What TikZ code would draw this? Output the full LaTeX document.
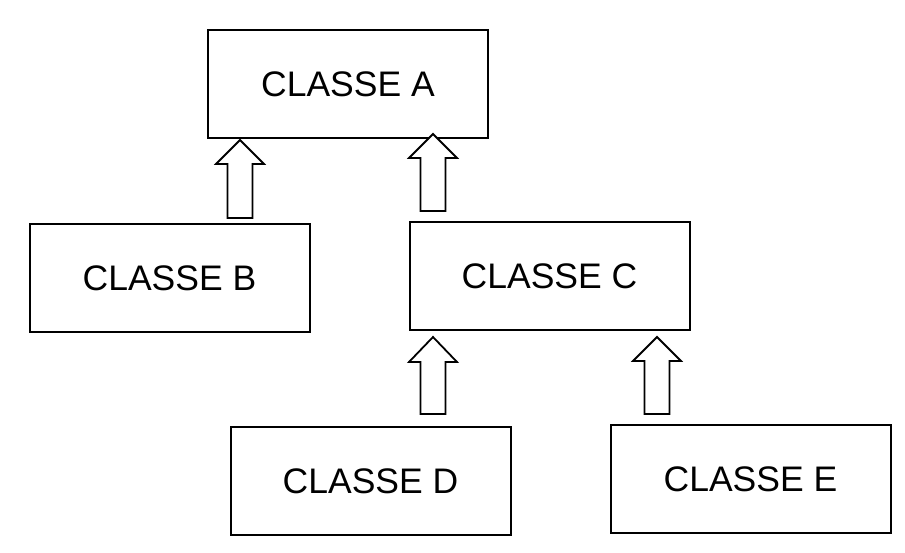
\documentclass[tikz,border=0pt]{standalone}
\usepackage{fontspec}
\setmainfont{Liberation Sans}
\begin{document}
\begin{tikzpicture}[x=1pt,y=-1pt,
  classbox/.style={draw=black,line width=2pt,minimum width=280pt,minimum height=108pt,inner sep=0pt,
    font=\fontsize{35.5}{42}\selectfont,text=black},
  blk/.style={draw=black,line width=1.8pt,fill=white,line join=miter}]
\useasboundingbox (0,0) rectangle (905,552);
\fill[white] (0,0) rectangle (905,552);
\node[classbox] (A) at (348,84) {CLASSE A};
\node[classbox] (B) at (169.5,278) {CLASSE B};
\node[classbox] (C) at (549.5,276) {CLASSE C};
\node[classbox] (D) at (370.5,481) {CLASSE D};
\node[classbox] (E) at (750.5,479) {CLASSE E};
\newcommand\blkarrow[4]{%
  \draw[blk] (#1-12.5,#2) -- (#1+12.5,#2) -- (#1+12.5,#4) -- (#1+24,#4) -- (#1,#3) -- (#1-24,#4) -- (#1-12.5,#4) -- cycle;}
\blkarrow{240}{218}{140}{164}
\blkarrow{433}{211}{134}{158}
\blkarrow{433}{414}{337}{362}
\blkarrow{657}{414}{337}{361}
\end{tikzpicture}
\end{document}
